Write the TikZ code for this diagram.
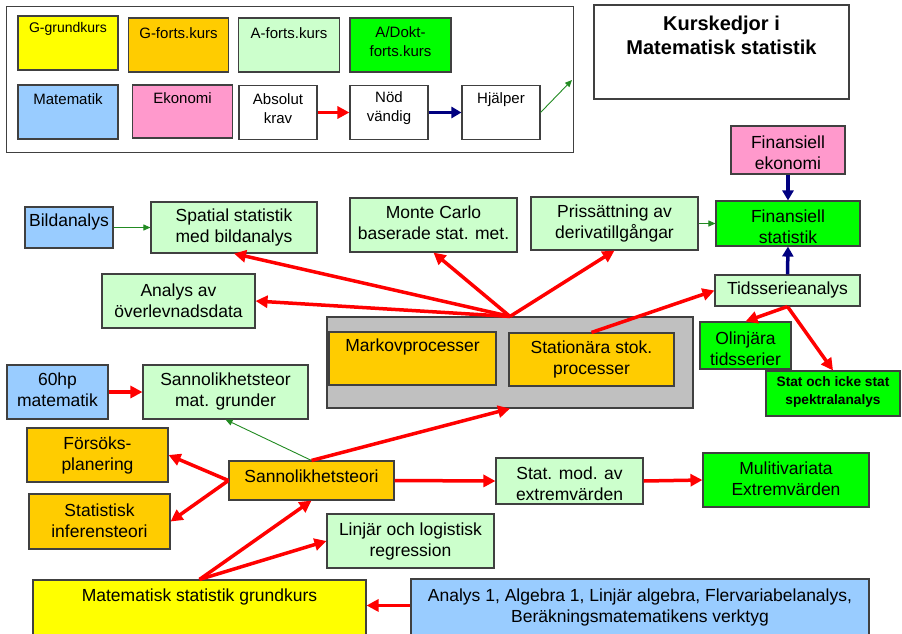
\documentclass[tikz,border=0pt]{standalone}
\usepackage{fontspec}
\setmainfont{Liberation Sans}
\usetikzlibrary{arrows.meta,calc}
\definecolor{cYellow}{HTML}{FFFF00}
\definecolor{cOrange}{HTML}{FFCC00}
\definecolor{cLight}{HTML}{CCFFCC}
\definecolor{cGreen}{HTML}{00FF00}
\definecolor{cBlue}{HTML}{99CCFF}
\definecolor{cPink}{HTML}{FF99CC}
\definecolor{cGray}{HTML}{C0C0C0}
\definecolor{cRed}{HTML}{FF0000}
\definecolor{cNavy}{HTML}{000080}
\definecolor{cThin}{HTML}{228B22}
\definecolor{cEdge}{HTML}{404040}
\begin{document}
\begin{tikzpicture}[x=1pt,y=-1pt,
  bx/.style={draw=cEdge, line width=1.1pt, inner sep=0pt},
  mtxt/.style n args={2}{label={[font=\fontsize{17.5}{21}\selectfont, align=center, inner sep=0pt, yshift=#1]center:{#2}}},
  ltxt/.style n args={2}{label={[font=\fontsize{15}{19}\selectfont, align=center, inner sep=0pt, yshift=#1]center:{#2}}},
  stxt/.style n args={2}{label={[font=\fontsize{14}{17}\selectfont, align=center, inner sep=0pt, yshift=#1]center:{#2}}},
  ttxt/.style n args={2}{label={[font=\fontsize{20}{24}\selectfont\bfseries, align=center, inner sep=0pt, yshift=#1]center:{#2}}},
  btxt/.style n args={2}{label={[font=\fontsize{13.7}{18}\selectfont\bfseries, align=center, inner sep=0pt, yshift=#1]center:{#2}}},
  rar/.style={draw=cRed, line width=3.5pt, -{Triangle[length=12pt,width=12pt]}},
  nar/.style={draw=cNavy, line width=3.5pt, -{Triangle[length=10pt,width=11pt]}},
  gar/.style={draw=cThin, line width=0.9pt, -{Triangle[length=7pt,width=6pt]}}
]
\useasboundingbox (0,0) rectangle (902,633);
\fill[white] (0,0) rectangle (902,633);

% legend frame
\node[draw=cEdge, line width=1pt, inner sep=0pt, minimum width=567pt, minimum height=146pt] (frame) at (289.5,79) {};
\node[bx, fill=cYellow, minimum width=100pt, minimum height=54pt, stxt={14pt}{G-grundkurs}] (gg) at (68,43) {};
\node[bx, fill=cOrange, minimum width=100pt, minimum height=54pt, ltxt={12pt}{G-forts.kurs}] (gf) at (178.5,45) {};
\node[bx, fill=cLight, minimum width=101pt, minimum height=54pt, ltxt={12pt}{A-forts.kurs}] (af) at (289,45) {};
\node[bx, fill=cGreen, minimum width=101pt, minimum height=54pt, ltxt={3pt}{A/Dokt-\\forts.kurs}] (ad) at (400.5,45) {};
\node[bx, fill=cBlue, minimum width=100pt, minimum height=54pt, ltxt={13pt}{Matematik}] (lm) at (68,112) {};
\node[bx, fill=cPink, minimum width=100pt, minimum height=53pt, ltxt={13.5pt}{Ekonomi}] (le) at (182.5,111.5) {};
\node[bx, fill=white, minimum width=78pt, minimum height=54pt, ltxt={4pt}{Absolut\\krav}] (abs) at (278,112.5) {};
\node[bx, fill=white, minimum width=78pt, minimum height=54pt, ltxt={4pt}{Nöd\\vändig}] (nod) at (389,112.5) {};
\node[bx, fill=white, minimum width=78pt, minimum height=54pt, ltxt={13pt}{Hjälper}] (hj) at (501,112.5) {};
\coordinate (gend) at (572,80);
\draw[rar] (abs.east) -- (nod.west);
\draw[nar] (nod.east) -- (hj.west);
\draw[gar] (hj.east) -- (gend);

% title
\node[bx, fill=white, minimum width=255pt, minimum height=94pt, ttxt={17pt}{Kurskedjor i\\Matematisk statistik}] (title) at (721.5,52) {};

% main boxes
\node[bx, fill=cPink, minimum width=114pt, minimum height=48pt, mtxt={-2.5pt}{Finansiell\\ekonomi}] (finek) at (788,150) {};
\node[bx, fill=cGreen, minimum width=144pt, minimum height=45pt, mtxt={-3.5pt}{Finansiell\\statistik}] (finstat) at (788,223.5) {};
\node[bx, fill=cLight, minimum width=167pt, minimum height=54pt, mtxt={2pt}{Monte Carlo\\baserade stat. met.}] (monte) at (433.5,225) {};
\node[bx, fill=cLight, minimum width=167pt, minimum height=53pt, mtxt={0.5pt}{Prissättning av\\derivatillgångar}] (priss) at (614.5,223.5) {};
\node[bx, fill=cLight, minimum width=145pt, minimum height=31pt, mtxt={0.5pt}{Tidsserieanalys}] (tids) at (787.5,290.5) {};
\node[bx, fill=cGreen, minimum width=91pt, minimum height=47pt, mtxt={-3pt}{Olinjära\\tidsserier}] (olinj) at (745.5,345.5) {};
\node[bx, fill=cGreen, minimum width=134pt, minimum height=45pt, btxt={1.5pt}{Stat och icke stat\\spektralanalys}] (spek) at (833,393.5) {};
\node[bx, fill=cGray, minimum width=366pt, minimum height=91pt] (gray) at (510,362.5) {};
\node[bx, fill=cOrange, minimum width=167pt, minimum height=53pt, mtxt={11.5pt}{Markovprocesser}] (markov) at (412.5,358.5) {};
\node[bx, fill=cOrange, minimum width=165pt, minimum height=53pt, mtxt={0.5pt}{Stationära stok.\\processer}] (station) at (591.5,359.5) {};
\node[bx, fill=cBlue, minimum width=88pt, minimum height=41pt, mtxt={5.5pt}{Bildanalys}] (bild) at (69,227.5) {};
\node[bx, fill=cLight, minimum width=166pt, minimum height=51pt, mtxt={0pt}{Spatial statistik\\med bildanalys}] (spatial) at (234,227.5) {};
\node[bx, fill=cLight, minimum width=153pt, minimum height=54pt, mtxt={0pt}{Analys av\\överlevnadsdata}] (analys) at (178.5,301) {};
\node[bx, fill=cBlue, minimum width=101pt, minimum height=54pt, mtxt={2pt}{60hp\\matematik}] (hp) at (57.5,392) {};
\node[bx, fill=cLight, minimum width=165pt, minimum height=54pt, mtxt={0.5pt}{Sannolikhetsteor\\mat. grunder}] (sannmat) at (225.5,392) {};
\node[bx, fill=cOrange, minimum width=141pt, minimum height=54pt, mtxt={0pt}{Försöks-\\planering}] (forsok) at (97.5,455) {};
\node[bx, fill=cOrange, minimum width=141pt, minimum height=55pt, mtxt={0.5pt}{Statistisk\\inferensteori}] (statinf) at (99.5,521.5) {};
\node[bx, fill=cOrange, minimum width=165pt, minimum height=39pt, mtxt={4.5pt}{Sannolikhetsteori}] (sannteori) at (311.5,480.5) {};
\node[bx, fill=cLight, minimum width=147pt, minimum height=46pt, mtxt={-2.5pt}{Stat. mod. av\\extremvärden}] (statmod) at (569.5,481) {};
\node[bx, fill=cGreen, minimum width=166pt, minimum height=54pt, mtxt={1pt}{Mulitivariata\\Extremvärden}] (multi) at (786,480) {};
\node[bx, fill=cLight, minimum width=167pt, minimum height=54pt, mtxt={0pt}{Linjär och logistisk\\regression}] (linj) at (410.5,541) {};
\node[bx, fill=cYellow, minimum width=333pt, minimum height=70pt, mtxt={18pt}{Matematisk statistik grundkurs}] (matgrund) at (199.5,615) {};
\node[bx, fill=cBlue, minimum width=458pt, minimum height=71pt, mtxt={7pt}{Analys 1, Algebra 1, Linjär algebra, Flervariabelanalys,\\Beräkningsmatematikens verktyg}] (analys1) at (640,614.5) {};

% connectors
\draw[nar] (finek.south) -- (finstat.north);
\draw[nar] (tids.north) -- (finstat.south);
\draw[gar] (priss.east) -- (finstat.west);
\draw[gar] (bild.east) -- (spatial.west);
\draw[rar] (gray.north) -- (spatial.south);
\draw[rar] (gray.north) -- (analys.east);
\draw[rar] (gray.north) -- (monte.south);
\draw[rar] (gray.north) -- (priss.south);
\draw[rar] (station.north) -- (tids.west);
\draw[rar] (tids.south) -- (olinj.north);
\draw[rar] (tids.south) -- (spek.north);
\draw[rar] (hp.east) -- (sannmat.west);
\draw[gar] (sannteori.north) -- (sannmat.south);
\draw[rar] (sannteori.north) -- (gray.south);
\draw[rar] (sannteori.west) -- (forsok.east);
\draw[rar] (sannteori.west) -- (statinf.east);
\draw[rar] (sannteori.east) -- (statmod.west);
\draw[rar] (statmod.east) -- (multi.west);
\draw[rar] (matgrund.north) -- (sannteori.south);
\draw[rar] (matgrund.north) -- (linj.west);
\coordinate (a1start) at ([yshift=-27pt]analys1.north west);
\draw[rar] (a1start) -- (matgrund.east |- a1start);
\end{tikzpicture}
\end{document}
